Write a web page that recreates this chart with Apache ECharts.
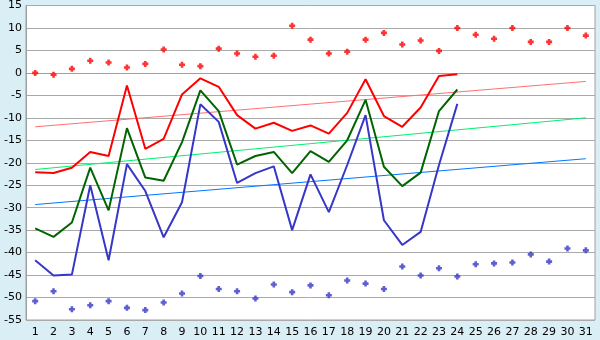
<!DOCTYPE html>
<html>
<head>
<meta charset="utf-8">
<script src="https://cdn.jsdelivr.net/npm/echarts@6/dist/echarts.min.js"></script>
<style>
  html, body { margin: 0; padding: 0; background: #daeef5; }
  #chart { width: 600px; height: 340px; }
</style>
</head>
<body>
<div id="chart"></div>
<script>
// Day of month
var days = ['1','2','3','4','5','6','7','8','9','10','11','12','13','14','15','16',
            '17','18','19','20','21','22','23','24','25','26','27','28','29','30','31'];

// Daily points (upper and lower markers)
var highDots = [0.0, -0.4, 0.9, 2.7, 2.3, 1.2, 2.0, 5.2, 1.8, 1.5, 5.4, 4.3, 3.6, 3.8, 10.5, 7.4,
                4.3, 4.7, 7.4, 8.9, 6.3, 7.2, 4.9, 10.0, 8.5, 7.6, 10.0, 6.9, 6.9, 10.0, 8.3];
var lowDots = [-50.8, -48.6, -52.6, -51.7, -50.8, -52.3, -52.8, -51.1, -49.1, -45.2, -48.1, -48.6,
               -50.2, -47.1, -48.8, -47.3, -49.5, -46.2, -46.9, -48.1, -43.1, -45.1, -43.5, -45.3,
               -42.6, -42.4, -42.2, -40.4, -42.0, -39.1, -39.5];

// Measured lines (days 1-24)
var redLine = [-22.1, -22.3, -21.1, -17.6, -18.5, -2.8, -16.9, -14.7, -4.8, -1.2, -3.1, -9.4,
               -12.4, -11.1, -12.9, -11.7, -13.5, -8.9, -1.4, -9.6, -12.0, -7.7, -0.7, -0.3];
var greenLine = [-34.6, -36.5, -33.3, -21.1, -30.6, -12.3, -23.3, -24.0, -15.4, -3.9, -8.5, -20.4,
                 -18.5, -17.6, -22.3, -17.4, -19.8, -15.0, -6.0, -20.9, -25.2, -22.2, -8.5, -3.7];
var blueLine = [-41.7, -45.1, -44.9, -25.0, -41.7, -20.3, -26.3, -36.6, -28.8, -7.0, -10.9, -24.5,
                -22.3, -20.8, -35.0, -22.6, -31.0, -20.5, -9.4, -32.8, -38.3, -35.4, -20.5, -6.9];

// Trend lines: value at first and last day
var redTrend = [-12.0, -1.9];
var greenTrend = [-21.5, -10.0];
var blueTrend = [-29.3, -19.1];

function trendData(ends) {
  var out = days.map(function () { return null; });
  out[0] = ends[0];
  out[days.length - 1] = ends[1];
  return out;
}

// Chunky plus-shaped point marker
var plusMark = 'path://M2,0H5V2H7V5H5V7H2V5H0V2H2Z';

var chart = echarts.init(document.getElementById('chart'), null, { renderer: 'canvas' });
chart.setOption({
  animation: false,
  backgroundColor: '#daeef5',
  textStyle: { fontFamily: 'DejaVu Sans' },
  grid: {
    left: 26, right: 5, top: 5, bottom: 20,
    show: true, backgroundColor: '#ffffff', borderColor: '#a0a0a0', borderWidth: 1
  },
  xAxis: {
    type: 'category',
    data: days,
    boundaryGap: true,
    axisLine: { lineStyle: { color: '#a0a0a0' } },
    axisTick: { alignWithLabel: true, length: 5, lineStyle: { color: '#a0a0a0' } },
    axisLabel: { color: '#000', fontSize: 11, margin: 7, interval: 0 },
    splitLine: { show: false }
  },
  yAxis: {
    type: 'value',
    min: -55, max: 15, interval: 5,
    axisLine: { show: true, lineStyle: { color: '#a0a0a0' } },
    axisTick: { show: false },
    axisLabel: { color: '#000', fontSize: 11, margin: 4 },
    splitLine: { lineStyle: { color: '#aaaaaa', width: 1 } }
  },
  series: [
    { type: 'line', data: trendData(redTrend), connectNulls: true, symbol: 'none',
      lineStyle: { color: '#ff7070', width: 1 }, z: 2 },
    { type: 'line', data: trendData(greenTrend), connectNulls: true, symbol: 'none',
      lineStyle: { color: '#00f070', width: 1 }, z: 2 },
    { type: 'line', data: trendData(blueTrend), connectNulls: true, symbol: 'none',
      lineStyle: { color: '#0078ff', width: 1 }, z: 2 },
    { type: 'line', data: redLine, symbol: 'none',
      lineStyle: { color: '#ff0000', width: 2 }, z: 3 },
    { type: 'line', data: greenLine, symbol: 'none',
      lineStyle: { color: '#006400', width: 2 }, z: 3 },
    { type: 'line', data: blueLine, symbol: 'none',
      lineStyle: { color: '#3636c8', width: 2 }, z: 3 },
    { type: 'scatter', data: highDots, symbol: plusMark, symbolSize: 6,
      itemStyle: { color: '#ff0000' }, z: 4 },
    { type: 'scatter', data: lowDots, symbol: plusMark, symbolSize: 6,
      itemStyle: { color: '#3636c8' }, z: 4 }
  ]
});
</script>
</body>
</html>
